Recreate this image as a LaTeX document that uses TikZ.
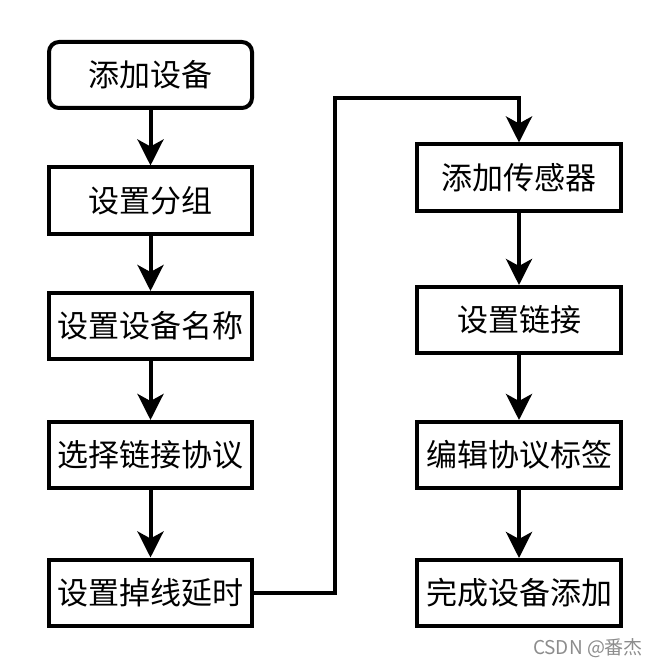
\documentclass[tikz,border=0pt]{standalone}
\usepackage{fontspec}
\setmainfont{Noto Sans CJK SC}
\usetikzlibrary{arrows.meta}

\begin{document}
\begin{tikzpicture}[x=1pt,y=-1pt,
        box/.style={draw,line width=4pt,minimum width=203pt,minimum height=66pt,inner sep=0pt,font=\fontsize{31}{31}\selectfont},
        flow/.style={line width=4pt,-{Stealth[length=26pt,width=26pt,inset=7pt]}}]
        \useasboundingbox (0,0) rectangle (661,668);

        % Left column
        \node[box,rounded corners=10pt] (add) at (150.5,75) {添加设备};
        \node[box] (group) at (150.5,200.5) {设置分组};
        \node[box] (name) at (150.5,326) {设置设备名称};
        \node[box] (proto) at (150.5,455) {选择链接协议};
        \node[box] (delay) at (150.5,592.5) {设置掉线延时};

        % Right column
        \node[box,minimum width=204pt] (sensor) at (519,177.5) {添加传感器};
        \node[box,minimum width=204pt] (link) at (519,320) {设置链接};
        \node[box,minimum width=204pt] (label) at (519,455) {编辑协议标签};
        \node[box,minimum width=204pt] (done) at (519,593) {完成设备添加};

        % Arrows
        \draw[flow] (add) -- (group);
        \draw[flow] (group) -- (name);
        \draw[flow] (name) -- (proto);
        \draw[flow] (proto) -- (delay);
        \coordinate (turn) at (335,98);
        \draw[flow] (delay.east) -| (turn) -| (sensor.north);
        \draw[flow] (sensor) -- (link);
        \draw[flow] (link) -- (label);
        \draw[flow] (label) -- (done);

        % Watermark
        \node[text=black!45,font=\fontsize{19}{19}\selectfont] (mark) at (588,648) {CSDN @番杰};
    \end{tikzpicture}
\end{document}
